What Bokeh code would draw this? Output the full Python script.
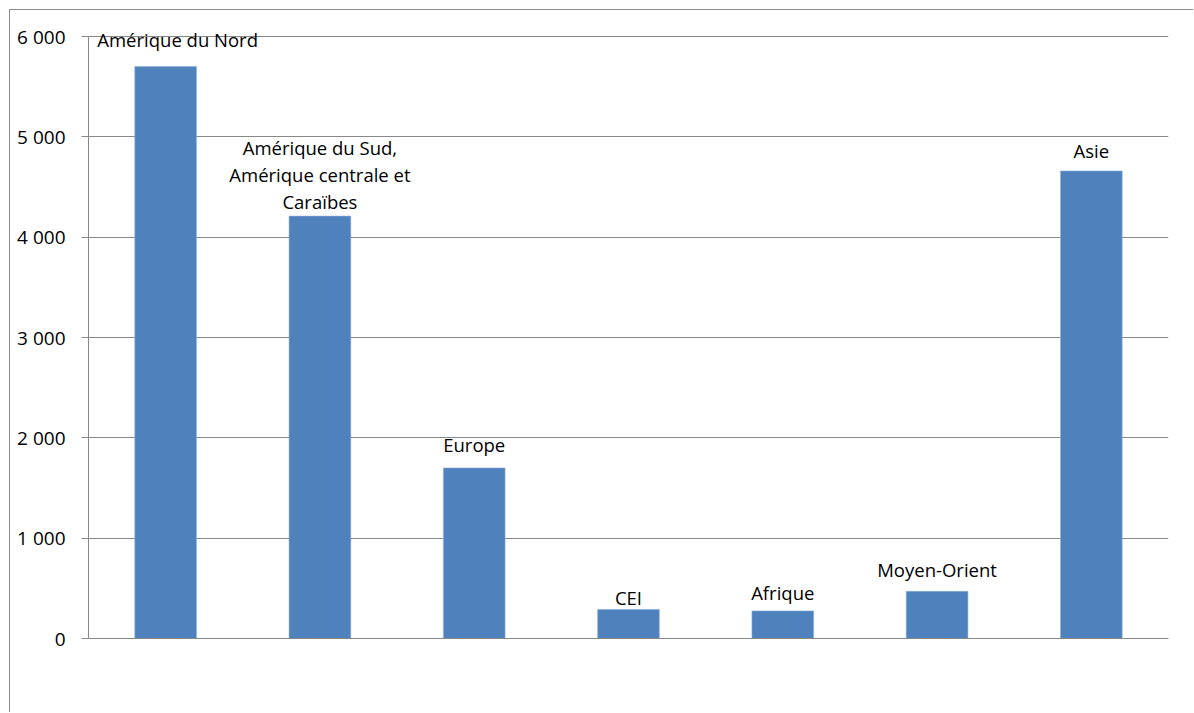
from bokeh.plotting import figure
from bokeh.models import FixedTicker, ColumnDataSource, Range1d, FactorRange, LabelSet
from bokeh.core.properties import value
from bokeh.embed import file_html
from bokeh.resources import INLINE

# ---- data ----
regions = ["Amérique du Nord", "Amérique du Sud, Amérique centrale et Caraïbes",
           "Europe", "CEI", "Afrique", "Moyen-Orient", "Asie"]
label_texts = ["Amérique du Nord", "Amérique du Sud,\nAmérique centrale et\nCaraïbes",
               "Europe", "CEI", "Afrique", "Moyen-Orient", "Asie"]
values = [5700, 4210, 1700, 290, 275, 470, 4660]
y_ticks = [0, 1000, 2000, 3000, 4000, 5000, 6000]
y_tick_labels = ["0", "1 000", "2 000", "3 000", "4 000", "5 000", "6 000"]

FONT = "Open Sans"
GRAY = "#888888"

# label fine positioning (pixels, upward = positive), style only
x_offsets = [12, 0, 0, 0, 0, 0, 0]
gaps = [20, 7, 16, 4, 11, 14, 13]
LINE_SPACING = 27

src = ColumnDataSource(dict(region=regions, val=values))

# one label row per text line, so that every line is centred on its bar
lab = dict(region=[], val=[], txt=[], xo=[], yo=[])
for r, v, t, xo, g in zip(regions, values, label_texts, x_offsets, gaps):
    lines = t.split("\n")
    n = len(lines)
    for i, line in enumerate(lines):
        lab["region"].append(r)
        lab["val"].append(v)
        lab["txt"].append(line)
        lab["xo"].append(xo)
        lab["yo"].append(g + (n - 1 - i) * LINE_SPACING)
lab_src = ColumnDataSource(lab)

# frame extends 20px above the 6000 line so the top label is not clipped
TOP_PAD_PX = 20
FRAME_H = 602 + TOP_PAD_PX
y_end = y_ticks[-1] / (1 - TOP_PAD_PX / FRAME_H)

p = figure(width=1184, height=703, output_backend="svg", toolbar_location=None,
           x_range=FactorRange(*regions, range_padding=0), y_range=Range1d(0, y_end),
           min_border_left=78, min_border_right=26, min_border_top=26 - TOP_PAD_PX,
           min_border_bottom=75)
p.styles = {"border-left": "1px solid #8c8c8c", "border-top": "1px solid #8c8c8c",
            "margin-left": "9px", "margin-top": "9px"}
p.outline_line_color = None
p.background_fill_color = "white"
p.border_fill_color = "white"

p.vbar(x="region", top="val", width=0.4, source=src, fill_color="#4F81BD",
       line_color="#8fb0dc", line_width=0.6)

labels = LabelSet(x="region", y="val", text="txt", source=lab_src, text_align="center",
                  text_baseline="alphabetic", x_offset="xo", y_offset="yo",
                  text_font=value(FONT), text_font_size=value("18.5px"),
                  text_color="black")
p.add_layout(labels)

# y axis
p.yaxis.ticker = FixedTicker(ticks=y_ticks)
p.yaxis.bounds = (y_ticks[0], y_ticks[-1])
p.yaxis.major_label_overrides = {t: l for t, l in zip(y_ticks, y_tick_labels)}
p.yaxis.major_label_text_font = FONT
p.yaxis.major_label_text_font_size = "19px"
p.yaxis.major_label_text_color = "black"
p.yaxis.major_label_standoff = 16
p.yaxis.major_tick_out = 7
p.yaxis.major_tick_in = 0
p.yaxis.minor_tick_line_color = None
p.yaxis.axis_line_color = GRAY
p.yaxis.major_tick_line_color = GRAY

# x axis
p.xaxis.major_label_text_color = None
p.xaxis.major_tick_line_color = None
p.xaxis.minor_tick_line_color = None
p.xaxis.axis_line_color = GRAY

p.xgrid.grid_line_color = None
p.ygrid.ticker = FixedTicker(ticks=y_ticks)
p.ygrid.grid_line_color = GRAY
p.ygrid.grid_line_width = 1

open("out.html", "w").write(file_html(p, INLINE))
